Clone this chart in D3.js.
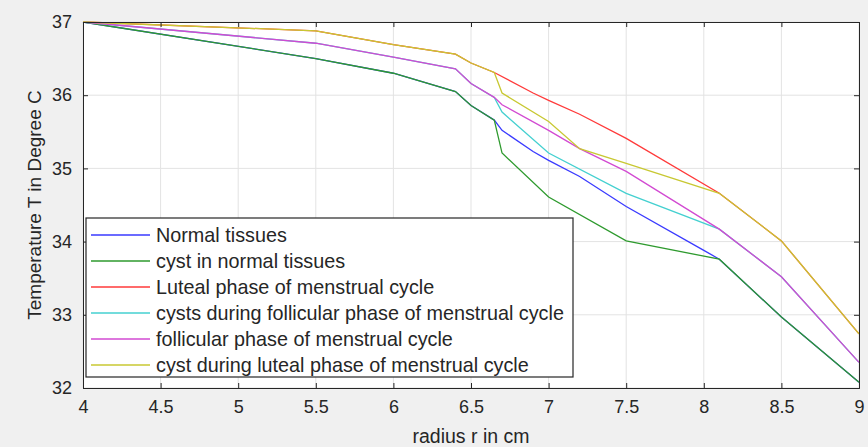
<!DOCTYPE html>
<html>
<head>
<meta charset="utf-8">
<script src="https://cdn.jsdelivr.net/npm/d3@7"></script>
<style>
  body { margin: 0; background: #f0f0f0; }
  text { font-family: "Liberation Sans", Arial, sans-serif; fill: #262626; }
</style>
</head>
<body>
<div id="chart"></div>
<script>
// series data (radius r in cm, temperature in degree C)
var xNormal = [4, 5.5, 6, 6.4, 6.5, 6.65, 6.7, 6.9, 7, 7.2, 7.5, 8, 8.1, 8.5, 9];
var yNormal = [37, 36.5, 36.3, 36.05, 35.86, 35.66, 35.52, 35.23, 35.11, 34.89, 34.48, 33.88, 33.76, 32.97, 32.08];

var xCyst = [4, 5.5, 6, 6.4, 6.5, 6.65, 6.7, 7, 7.5, 8.1, 8.5, 9];
var yCyst = [37, 36.5, 36.3, 36.05, 35.86, 35.66, 35.21, 34.61, 34.01, 33.76, 32.97, 32.08];

var xLuteal = [4, 5.5, 6, 6.4, 6.5, 6.65, 6.9, 7, 7.2, 7.5, 8.1, 8.5, 9];
var yLuteal = [37, 36.88, 36.69, 36.56, 36.44, 36.31, 36.03, 35.93, 35.74, 35.41, 34.66, 34.01, 32.74];

var xCystFoll = [4, 5.5, 6, 6.4, 6.5, 6.65, 6.7, 7, 7.5, 8.1, 8.5, 9];
var yCystFoll = [37, 36.71, 36.52, 36.36, 36.16, 35.97, 35.77, 35.21, 34.66, 34.17, 33.52, 32.35];

var xFoll = [4, 5.5, 6, 6.4, 6.5, 6.65, 6.7, 7, 7.2, 7.5, 8.1, 8.5, 9];
var yFoll = [37, 36.71, 36.52, 36.36, 36.16, 35.97, 35.87, 35.52, 35.27, 34.96, 34.17, 33.52, 32.35];

var xCystLut = [4, 5.5, 6, 6.4, 6.5, 6.65, 6.7, 7, 7.2, 7.5, 8.1, 8.5, 9];
var yCystLut = [37, 36.88, 36.69, 36.56, 36.44, 36.31, 36.03, 35.64, 35.27, 35.07, 34.66, 34.01, 32.74];

var names = ["Normal tissues", "cyst in normal tissues", "Luteal phase of menstrual cycle",
  "cysts during follicular phase of menstrual cycle", "follicular phase of menstrual cycle",
  "cyst during luteal phase of menstrual cycle"];
var colors = ["#3a3aff", "#2e9a2e", "#ff3a3a", "#44d0d0", "#d24ad2", "#c8c832"];
var xs = [xNormal, xCyst, xLuteal, xCystFoll, xFoll, xCystLut];
var ys = [yNormal, yCyst, yLuteal, yCystFoll, yFoll, yCystLut];

var xTicks = [4, 4.5, 5, 5.5, 6, 6.5, 7, 7.5, 8, 8.5, 9];
var yTicks = [32, 33, 34, 35, 36, 37];

var W = 868, H = 447;
var L = 83, R = 859, T = 22, B = 388;

var svg = d3.select("#chart").append("svg")
  .attr("width", W).attr("height", H);

svg.append("rect").attr("width", W).attr("height", H).attr("fill", "#f0f0f0");
svg.append("rect").attr("x", L).attr("y", T).attr("width", R - L).attr("height", B - T)
  .attr("fill", "#fff");

var x = d3.scaleLinear().domain([4, 9]).range([L, R]);
var y = d3.scaleLinear().domain([32, 37]).range([B, T]);

// grid
svg.append("g").selectAll("line").data(xTicks).join("line")
  .attr("x1", d => x(d)).attr("x2", d => x(d)).attr("y1", T).attr("y2", B)
  .attr("stroke", "#e3e3e3").attr("stroke-width", 1);
svg.append("g").selectAll("line").data(yTicks).join("line")
  .attr("y1", d => y(d)).attr("y2", d => y(d)).attr("x1", L).attr("x2", R)
  .attr("stroke", "#e3e3e3").attr("stroke-width", 1);

// lines
var line = d3.line().x(d => x(d[0])).y(d => y(d[1]));
for (var i = 0; i < xs.length; i++) {
  var pts = xs[i].map((v, j) => [v, ys[i][j]]);
  svg.append("path").datum(pts)
    .attr("d", line)
    .attr("fill", "none")
    .attr("stroke", colors[i])
    .attr("stroke-width", 1.3);
}

// axes
var axB = svg.append("g").attr("transform", "translate(0," + B + ")")
  .call(d3.axisBottom(x).tickValues(xTicks).tickSize(-5).tickPadding(12).tickFormat(d3.format("")));
var axT = svg.append("g").attr("transform", "translate(0," + T + ")")
  .call(d3.axisTop(x).tickValues(xTicks).tickSize(-5).tickFormat(""));
var axL = svg.append("g").attr("transform", "translate(" + L + ",0)")
  .call(d3.axisLeft(y).tickValues(yTicks).tickSize(-5).tickPadding(11).tickFormat(d3.format("")));
var axR = svg.append("g").attr("transform", "translate(" + R + ",0)")
  .call(d3.axisRight(y).tickValues(yTicks).tickSize(-5).tickFormat(""));
[axB, axT, axL, axR].forEach(function (a) {
  a.select(".domain").attr("stroke", "#262626");
  a.selectAll(".tick line").attr("stroke", "#262626");
  a.selectAll("text").attr("font-size", "18px").attr("fill", "#262626")
    .attr("font-family", "Liberation Sans, Arial, sans-serif");
});

// axis labels
svg.append("text").attr("x", (L + R) / 2).attr("y", 443)
  .attr("text-anchor", "middle").attr("font-size", "19.5px")
  .text("radius r in cm");
svg.append("text")
  .attr("transform", "translate(41," + (T + B) / 2 + ") rotate(-90)")
  .attr("text-anchor", "middle").attr("font-size", "19px")
  .text("Temperature T in Degree C");

// legend
var lg = svg.append("g");
lg.append("rect").attr("x", 86).attr("y", 218).attr("width", 487).attr("height", 159)
  .attr("fill", "#fff").attr("stroke", "#262626").attr("stroke-width", 1.2);
names.forEach(function (n, i) {
  var yy = 235 + i * 26;
  lg.append("line").attr("x1", 91).attr("x2", 150).attr("y1", yy).attr("y2", yy)
    .attr("stroke", colors[i]).attr("stroke-width", 1.3);
  lg.append("text").attr("x", 156).attr("y", yy).attr("dy", "0.35em")
    .attr("font-size", "19.8px").text(n);
});
</script>
</body>
</html>
